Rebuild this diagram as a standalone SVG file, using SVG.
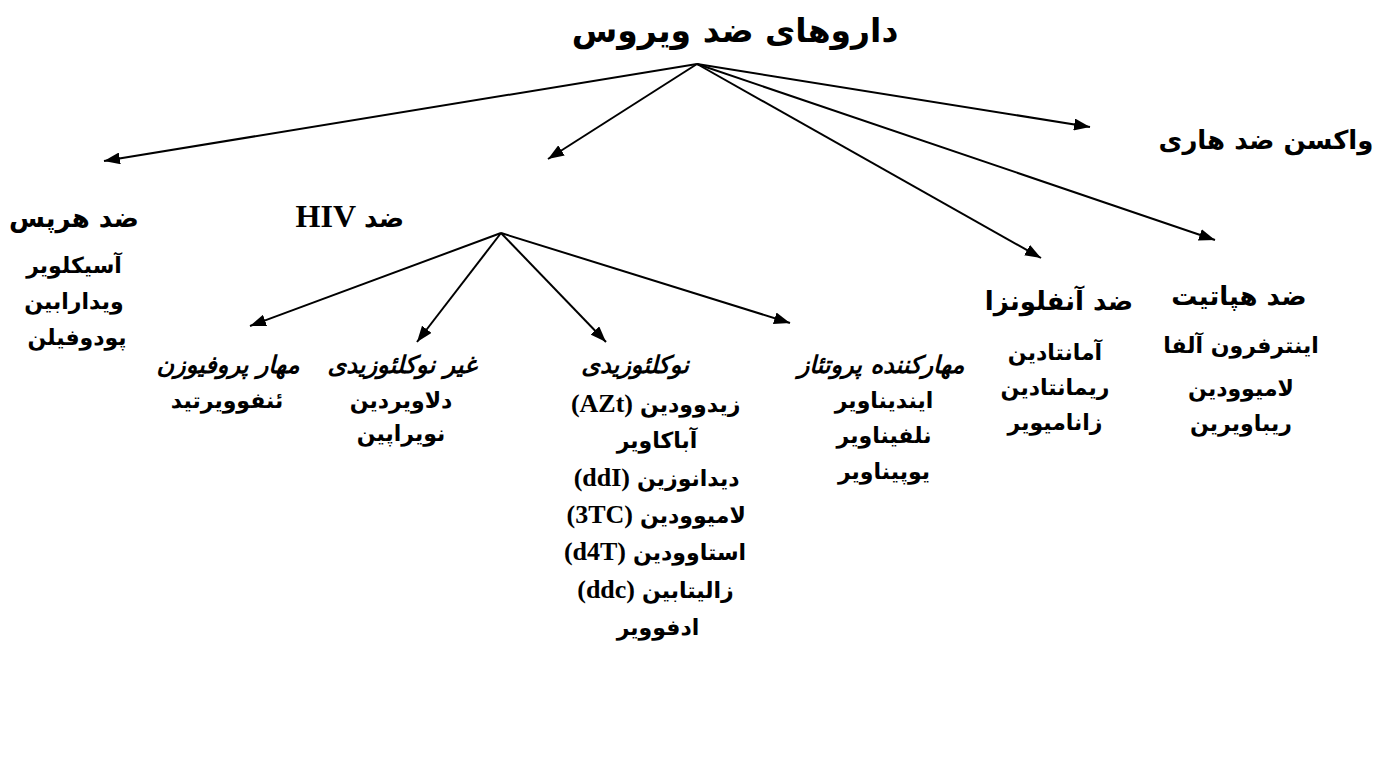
<svg xmlns="http://www.w3.org/2000/svg" width="1389" height="760" viewBox="0 0 1389 760">
<defs>
<marker id="ah" viewBox="0 0 16 12" refX="16" refY="6" markerWidth="16" markerHeight="12" markerUnits="userSpaceOnUse" orient="auto">
<path d="M0,0 L16,6 L0,12 Z" fill="#000"/>
</marker>
<style>
text{font-family:"DejaVu Sans","Noto Sans",sans-serif;font-weight:bold;fill:#000;text-anchor:middle;direction:rtl}
text.fa{text-anchor:end}
text.lat{font-family:"Liberation Serif",serif;font-size:26px;direction:ltr;text-anchor:end}
.t{font-size:33px}
.h{font-size:26px}
.i{font-size:22px}
.s{font-size:24px;font-style:italic}
.c line{stroke:#000;stroke-width:2;marker-end:url(#ah)}
</style>
</defs>
<rect width="1389" height="760" fill="#fff"/>
<g class="c" id="connectors">
<line x1="697" y1="64" x2="104" y2="161"/>
<line x1="697" y1="64" x2="548" y2="159"/>
<line x1="697" y1="64" x2="1041" y2="258"/>
<line x1="697" y1="64" x2="1215" y2="240"/>
<line x1="697" y1="64" x2="1090" y2="127"/>
<line x1="501" y1="233" x2="250" y2="326"/>
<line x1="501" y1="233" x2="417" y2="342"/>
<line x1="501" y1="233" x2="606" y2="342"/>
<line x1="501" y1="233" x2="790" y2="323"/>
</g>
<g id="root"><text class="t" x="735" y="42">داروهای ضد ویروس</text></g>
<g id="rabies"><text class="h" x="1266" y="149">واکسن ضد هاری</text></g>
<g id="herpes">
<text class="h" x="74" y="227">ضد هرپس</text>
<text class="i" x="74" y="273">آسیکلویر</text>
<text class="i" x="74" y="309">ویدارابین</text>
<text class="i" x="77" y="345">پودوفیلن</text>
</g>
<g id="hiv">
<text class="h fa" x="364" y="227">ضد</text>
<text class="lat" x="356" y="227" style="font-size:32px">HIV</text>
</g>
<g id="fusion">
<text class="s" x="228" y="373">مهار پروفیوزن</text>
<text class="i" x="227" y="408">ئنفوویرتید</text>
</g>
<g id="nnrti">
<text class="s" x="402" y="373">غیر نوکلئوزیدی</text>
<text class="i" x="401" y="408">دلاویردین</text>
<text class="i" x="401" y="441">نویراپین</text>
</g>
<g id="nrti">
<text class="s" x="635" y="373">نوکلئوزیدی</text>
<text class="i fa" x="640" y="412">زیدوودین</text>
<text class="lat" x="633" y="412">(AZt)</text>
<text class="i" x="657" y="448">آباکاویر</text>
<text class="i fa" x="637" y="486">دیدانوزین</text>
<text class="lat" x="630" y="486">(ddI)</text>
<text class="i fa" x="640" y="523">لامیوودین</text>
<text class="lat" x="633" y="523">(3TC)</text>
<text class="i fa" x="633" y="560">استاوودین</text>
<text class="lat" x="626" y="560">(d4T)</text>
<text class="i fa" x="642" y="598">زالیتابین</text>
<text class="lat" x="635" y="598">(ddc)</text>
<text class="i" x="658" y="635">ادفوویر</text>
</g>
<g id="protease">
<text class="s" x="881" y="373">مهارکننده پروتئاز</text>
<text class="i" x="884" y="408">ایندیناویر</text>
<text class="i" x="884" y="443">نلفیناویر</text>
<text class="i" x="884" y="479">یوپیناویر</text>
</g>
<g id="influenza">
<text class="h" x="1059" y="310">ضد آنفلونزا</text>
<text class="i" x="1055" y="360">آمانتادین</text>
<text class="i" x="1055" y="395">ریمانتادین</text>
<text class="i" x="1055" y="430">زانامیویر</text>
</g>
<g id="hepatitis">
<text class="h" x="1239" y="305">ضد هپاتیت</text>
<text class="i" x="1241" y="353">اینترفرون آلفا</text>
<text class="i" x="1241" y="396">لامیوودین</text>
<text class="i" x="1241" y="431">ریباویرین</text>
</g>
</svg>
